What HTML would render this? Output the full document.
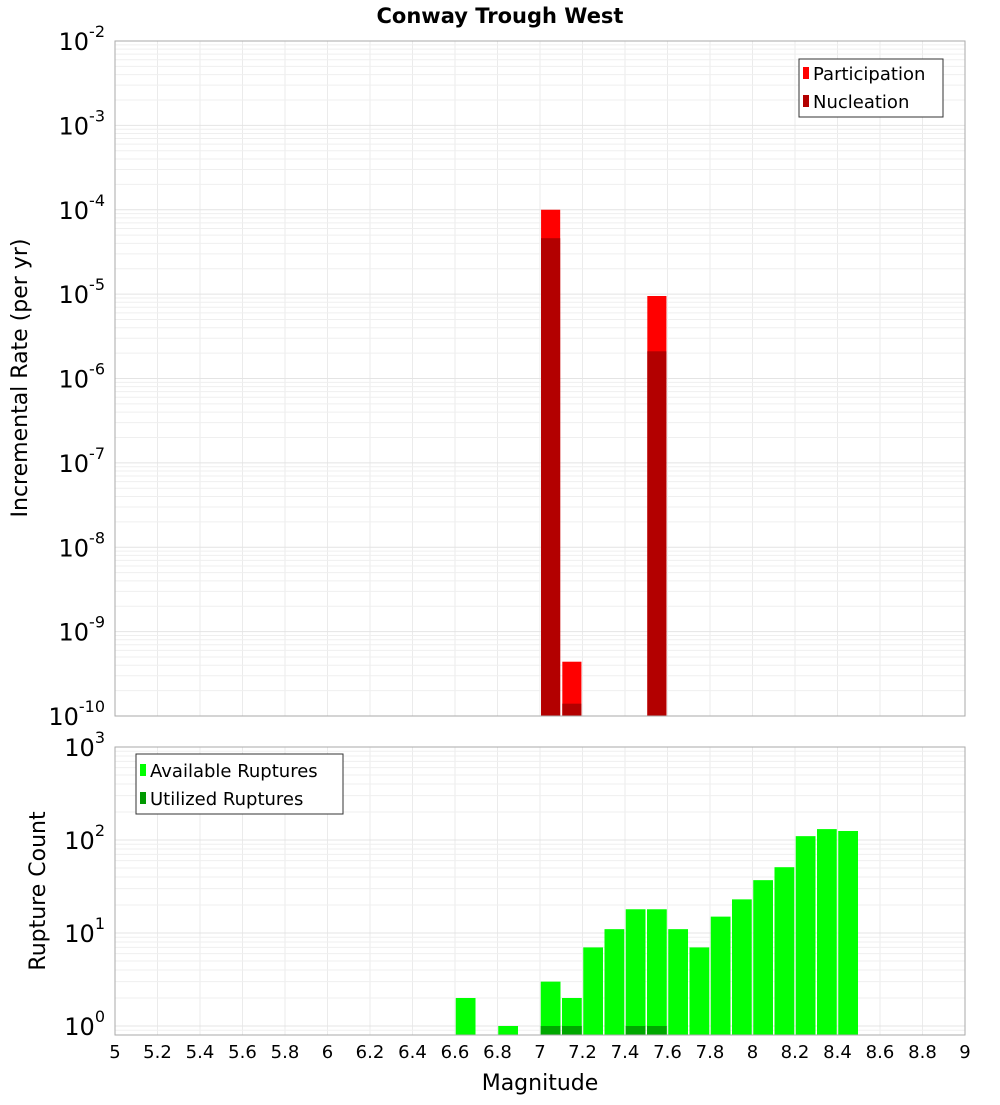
<!DOCTYPE html>
<html><head><meta charset="utf-8"><style>
body{margin:0;background:#fff;font-family:"Liberation Sans","DejaVu Sans",sans-serif}
svg text{font-family:"DejaVu Sans","Liberation Sans",sans-serif}
</style></head><body>
<svg id="c" width="1000" height="1100" viewBox="0 0 1000 1100">
<text x="500" y="23" text-anchor="middle" font-size="21" font-weight="bold">Conway Trough West</text>
<g id="gtop"></g>
<g id="gbot"></g>
<text transform="translate(27,378) rotate(-90)" text-anchor="middle" font-size="22">Incremental Rate (per yr)</text>
<text transform="translate(45,891) rotate(-90)" text-anchor="middle" font-size="22">Rupture Count</text>
<text x="540" y="1090" text-anchor="middle" font-size="22">Magnitude</text>
<g>
<rect x="799" y="59" width="144" height="58" fill="#fff" stroke="#333"/>
<rect x="803" y="67" width="6" height="12" fill="#ff0000"/>
<text x="813" y="80" font-size="18">Participation</text>
<rect x="803" y="95" width="6" height="12" fill="#b30000"/>
<text x="813" y="108" font-size="18">Nucleation</text>
</g>
<g>
<rect x="136" y="754" width="207" height="60" fill="#fff" stroke="#333"/>
<rect x="140" y="764" width="6" height="12" fill="#00ff00"/>
<text x="150" y="777" font-size="18">Available Ruptures</text>
<rect x="140" y="792" width="6" height="12" fill="#009900"/>
<text x="150" y="805" font-size="18">Utilized Ruptures</text>
</g>
</svg>
<script>
const rateMags=[7.05,7.15,7.55];
const participation=[1.0e-4,4.4e-10,9.5e-6];
const nucleation=[4.6e-5,1.4e-10,2.1e-6];
const countMags=[6.65,6.85,7.05,7.15,7.25,7.35,7.45,7.55,7.65,7.75,7.85,7.95,8.05,8.15,8.25,8.35,8.45];
const available=[2,1,3,2,7,11,18,18,11,7,15,23,37,51,110,131,125];
const utilMags=[7.05,7.15,7.45,7.55];
const utilized=[1,1,1,1];
const xTicks=[5,5.2,5.4,5.6,5.8,6,6.2,6.4,6.6,6.8,7,7.2,7.4,7.6,7.8,8,8.2,8.4,8.6,8.8,9];
const rateExps=[-2,-3,-4,-5,-6,-7,-8,-9,-10];
const countExps=[3,2,1,0];

const NS='http://www.w3.org/2000/svg';
const X0=115,X1=965;
const x=m=>X0+(m-5)/4*(X1-X0);
const yT=v=>41+(-2-Math.log10(v))*(716-41)/8;
const yB=v=>747+(3-Math.log10(v))*93;
function mk(p,tag,at){const e=document.createElementNS(NS,tag);for(const k in at)e.setAttribute(k,at[k]);p.appendChild(e);return e;}
function frame(g,t0,b0,yf,lo,hi){
  for(const t of xTicks){mk(g,'line',{x1:x(t),x2:x(t),y1:t0,y2:b0,stroke:'#ebebeb'});}
  for(let e=lo;e<hi;e++)for(let k=1;k<10;k++){const yy=yf(k*Math.pow(10,e));if(yy<t0-0.5||yy>b0+0.5)continue;
    mk(g,'line',{x1:X0,x2:X1,y1:yy,y2:yy,stroke:k==1?'#e4e4e4':'#efefef'});}
}
const gTop=document.getElementById('gtop'),gBot=document.getElementById('gbot');
frame(gTop,41,716,yT,-10,-1);
frame(gBot,747,1035,yB,-1,3);
const hw=0.045;
participation.forEach((v,i)=>{const r=mk(gTop,'rect',{x:x(rateMags[i]-hw),width:x(rateMags[i]+hw)-x(rateMags[i]-hw),y:yT(v),height:716-yT(v),fill:'#ff0000'});

});
nucleation.forEach((v,i)=>{const r=mk(gTop,'rect',{x:x(rateMags[i]-hw),width:x(rateMags[i]+hw)-x(rateMags[i]-hw),y:yT(v),height:716-yT(v),fill:'#b30000'});

});
available.forEach((v,i)=>{const r=mk(gBot,'rect',{x:x(countMags[i]-0.0465),width:x(countMags[i]+0.0465)-x(countMags[i]-0.0465),y:yB(v),height:1035-yB(v),fill:'#00ff00'});

});
utilized.forEach((v,i)=>{const r=mk(gBot,'rect',{x:x(utilMags[i]-0.0465),width:x(utilMags[i]+0.0465)-x(utilMags[i]-0.0465),y:yB(v),height:1035-yB(v),fill:'#00a800'});

});
mk(gTop,'rect',{x:X0,y:41,width:X1-X0,height:675,fill:'none',stroke:'#aaa'});
mk(gBot,'rect',{x:X0,y:747,width:X1-X0,height:288,fill:'none',stroke:'#aaa'});
function ylab(g,yy,e){const t=mk(g,'text',{x:105,y:yy+9,'text-anchor':'end','font-size':24});


t.textContent='10';const s=mk(t,'tspan',{dy:-13,'font-size':16});s.textContent=String(e);}
rateExps.forEach(e=>ylab(gTop,yT(Math.pow(10,e)),e));
countExps.forEach(e=>ylab(gBot,yB(Math.pow(10,e)),e));
xTicks.forEach(t=>{const l=mk(gBot,'text',{x:x(t),y:1058,'text-anchor':'middle','font-size':18});


l.textContent=String(t);});
</script>
</body></html>
